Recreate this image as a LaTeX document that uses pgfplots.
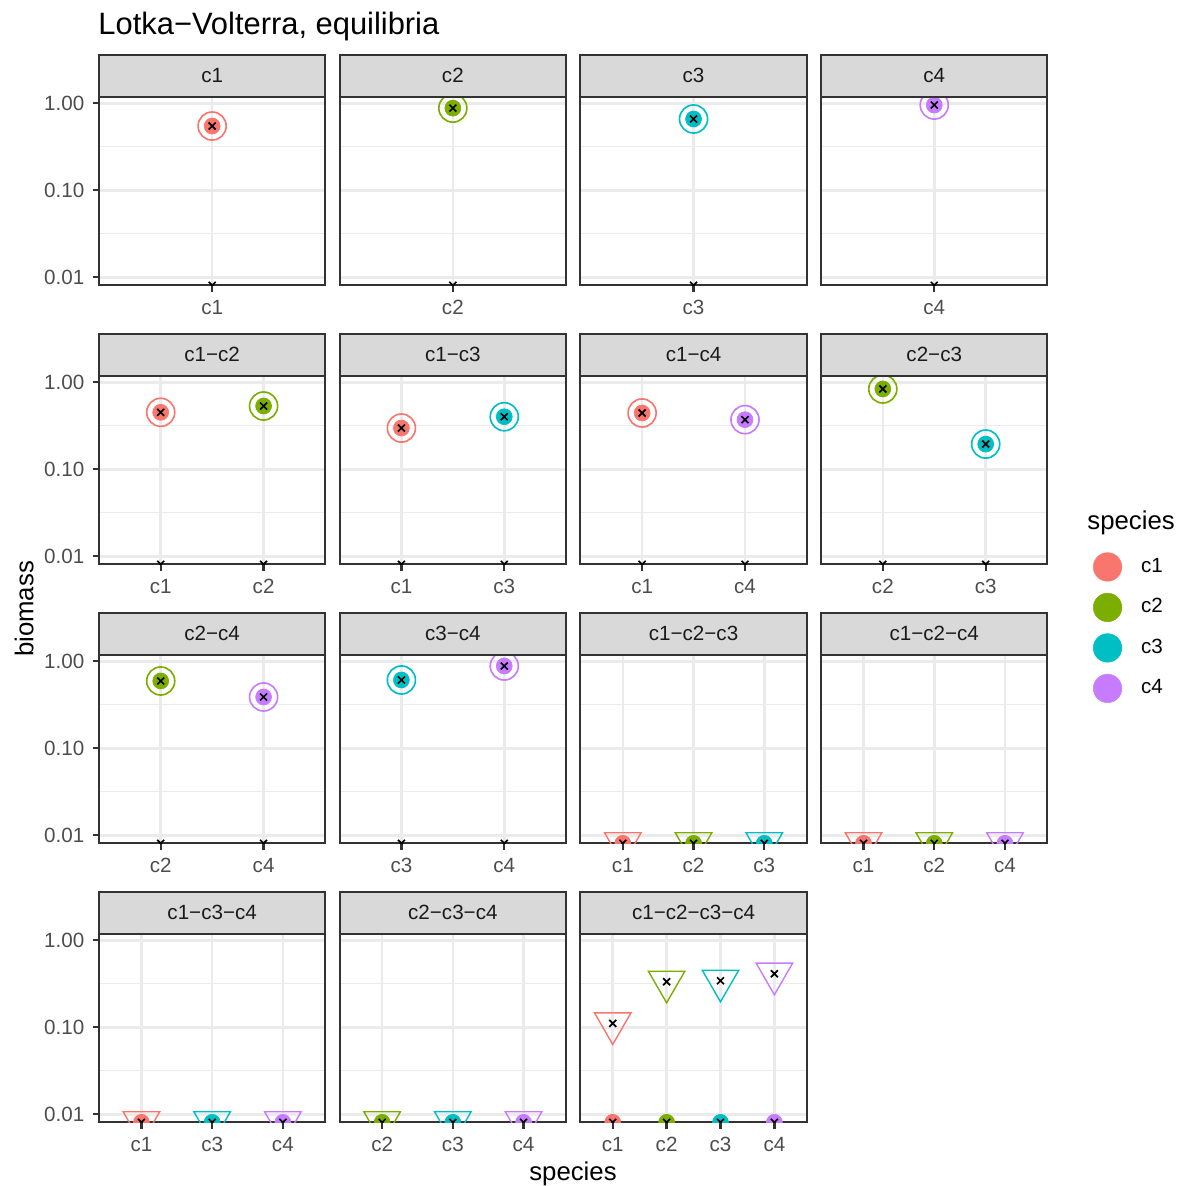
\documentclass[border=0pt]{standalone}
\usepackage{fontspec}
\setmainfont{Liberation Sans}
\usepackage{pgfplots}
\pgfplotsset{compat=1.18}
\definecolor{cA}{HTML}{F8766D}
\definecolor{cB}{HTML}{7CAE00}
\definecolor{cC}{HTML}{00BFC4}
\definecolor{cD}{HTML}{C77CFF}
\definecolor{gridc}{HTML}{EBEBEB}
\definecolor{g20}{HTML}{333333}
\definecolor{g30}{HTML}{4D4D4D}
\definecolor{g10}{HTML}{1A1A1A}
\definecolor{g85}{HTML}{D9D9D9}
\newcommand\fs{\fontsize{8.8}{10.56}\selectfont}
\newcommand\fm{\fontsize{11}{13.2}\selectfont}
\newcommand\strip[3]{\draw[fill=g85,draw=g20,line width=0.9pt] (#1pt,-#2pt) rectangle ++(96.694pt,-17.946pt);
  \node[font=\fs,text=g10,inner sep=0pt] at ({#1pt+48.347pt},{-#2pt-8.973pt}) {#3};}
\pgfplotsset{
  every axis/.append style={
    ymin=0.00809, ymax=1.191, xmin=0.4,
    scale only axis, width=96.694pt, height=80.585pt,
    ytick={0.01,0.1,1}, yticklabels={0.01,0.10,1.00},
    minor ytick={0.0316228,0.316228},
    xmajorgrids, ymajorgrids, yminorgrids,
    major grid style={draw=gridc, line width=1.07pt},
    minor grid style={draw=gridc, line width=0.53pt},
    axis line style={draw=g20, line width=0.9pt},
    tick style={draw=g20, line width=1pt},
    major tick length=2.75pt, minor tick length=0pt,
    tick align=outside, tick pos=left,
    ticklabel style={font=\fs, text=g30},
    clip marker paths=true,
  },
}
\tikzset{
  fpt/.style={only marks, mark=*, color=#1, mark size=3.4pt, mark options={line width=0.3pt}},
  opc/.style={only marks, mark=o, mark size=6pt, mark options={draw=#1, line width=0.7pt, fill=none}},
  tri/.style={only marks, mark=triangle, mark size=9pt, mark options={rotate=180, draw=#1, line width=0.6pt, fill=none}},
  xmk/.style={only marks, mark=x, mark size=2.1pt, mark options={draw=black, line width=0.7pt}},
}
\begin{document}
\begin{tikzpicture}
\useasboundingbox (0pt,0pt) rectangle (505.900pt,-506.754pt);
% Row 1
\begin{semilogyaxis}[xmax=1.6, xtick={1}, xticklabels={c1}, at={(42.301pt,-121.903pt)}, anchor=south west]
\addplot[fpt=cA] coordinates {(1,0.548)};
\addplot[opc=cA] coordinates {(1,0.548)};
\addplot[xmk] coordinates {(1,0.548) (1,0.00809)};
\end{semilogyaxis}
\begin{semilogyaxis}[yticklabels={}, ytick style={draw=none}, xmax=1.6, xtick={1}, xticklabels={c2}, at={(145.147pt,-121.903pt)}, anchor=south west]
\addplot[fpt=cB] coordinates {(1,0.88)};
\addplot[opc=cB] coordinates {(1,0.88)};
\addplot[xmk] coordinates {(1,0.88) (1,0.00809)};
\end{semilogyaxis}
\begin{semilogyaxis}[yticklabels={}, ytick style={draw=none}, xmax=1.6, xtick={1}, xticklabels={c3}, at={(247.994pt,-121.903pt)}, anchor=south west]
\addplot[fpt=cC] coordinates {(1,0.66)};
\addplot[opc=cC] coordinates {(1,0.66)};
\addplot[xmk] coordinates {(1,0.66) (1,0.00809)};
\end{semilogyaxis}
\begin{semilogyaxis}[yticklabels={}, ytick style={draw=none}, xmax=1.6, xtick={1}, xticklabels={c4}, at={(350.840pt,-121.903pt)}, anchor=south west]
\addplot[fpt=cD] coordinates {(1,0.955)};
\addplot[opc=cD] coordinates {(1,0.955)};
\addplot[xmk] coordinates {(1,0.955) (1,0.00809)};
\end{semilogyaxis}
% Row 2
\begin{semilogyaxis}[xmax=2.6, xtick={1,2}, xticklabels={c1,c2}, at={(42.301pt,-241.114pt)}, anchor=south west]
\addplot[fpt=cA] coordinates {(1,0.452)};
\addplot[fpt=cB] coordinates {(2,0.534)};
\addplot[opc=cA] coordinates {(1,0.452)};
\addplot[opc=cB] coordinates {(2,0.534)};
\addplot[xmk] coordinates {(1,0.452) (2,0.534) (1,0.00809) (2,0.00809)};
\end{semilogyaxis}
\begin{semilogyaxis}[yticklabels={}, ytick style={draw=none}, xmax=2.6, xtick={1,2}, xticklabels={c1,c3}, at={(145.147pt,-241.114pt)}, anchor=south west]
\addplot[fpt=cA] coordinates {(1,0.298)};
\addplot[fpt=cC] coordinates {(2,0.402)};
\addplot[opc=cA] coordinates {(1,0.298)};
\addplot[opc=cC] coordinates {(2,0.402)};
\addplot[xmk] coordinates {(1,0.298) (2,0.402) (1,0.00809) (2,0.00809)};
\end{semilogyaxis}
\begin{semilogyaxis}[yticklabels={}, ytick style={draw=none}, xmax=2.6, xtick={1,2}, xticklabels={c1,c4}, at={(247.994pt,-241.114pt)}, anchor=south west]
\addplot[fpt=cA] coordinates {(1,0.444)};
\addplot[fpt=cD] coordinates {(2,0.372)};
\addplot[opc=cA] coordinates {(1,0.444)};
\addplot[opc=cD] coordinates {(2,0.372)};
\addplot[xmk] coordinates {(1,0.444) (2,0.372) (1,0.00809) (2,0.00809)};
\end{semilogyaxis}
\begin{semilogyaxis}[yticklabels={}, ytick style={draw=none}, xmax=2.6, xtick={1,2}, xticklabels={c2,c3},
  legend cell align=left,
  legend style={at={(1.2006,0.0642)}, anchor=north west, draw=none, fill=none,
    inner xsep=0pt, inner ysep=0pt, row sep=5.1pt, column sep=0pt, font=\fs,
    nodes={inner sep=0pt},
    /tikz/every odd column/.append style={column sep=8.2pt}},
  at={(350.840pt,-241.114pt)}, anchor=south west]
\addlegendimage{only marks, mark=*, color=cA, mark size=6.1pt, mark options={line width=0.2pt}}\addlegendentry{c1}
\addlegendimage{only marks, mark=*, color=cB, mark size=6.1pt, mark options={line width=0.2pt}}\addlegendentry{c2}
\addlegendimage{only marks, mark=*, color=cC, mark size=6.1pt, mark options={line width=0.2pt}}\addlegendentry{c3}
\addlegendimage{only marks, mark=*, color=cD, mark size=6.1pt, mark options={line width=0.2pt}}\addlegendentry{c4}
\addplot[fpt=cB] coordinates {(1,0.838)};
\addplot[fpt=cC] coordinates {(2,0.195)};
\addplot[opc=cB] coordinates {(1,0.838)};
\addplot[opc=cC] coordinates {(2,0.195)};
\addplot[xmk] coordinates {(1,0.838) (2,0.195) (1,0.00809) (2,0.00809)};
\end{semilogyaxis}
% Row 3
\begin{semilogyaxis}[xmax=2.6, xtick={1,2}, xticklabels={c2,c4}, at={(42.301pt,-360.325pt)}, anchor=south west]
\addplot[fpt=cB] coordinates {(1,0.594)};
\addplot[fpt=cD] coordinates {(2,0.389)};
\addplot[opc=cB] coordinates {(1,0.594)};
\addplot[opc=cD] coordinates {(2,0.389)};
\addplot[xmk] coordinates {(1,0.594) (2,0.389) (1,0.00809) (2,0.00809)};
\end{semilogyaxis}
\begin{semilogyaxis}[yticklabels={}, ytick style={draw=none}, xmax=2.6, xtick={1,2}, xticklabels={c3,c4}, at={(145.147pt,-360.325pt)}, anchor=south west]
\addplot[fpt=cC] coordinates {(1,0.61)};
\addplot[fpt=cD] coordinates {(2,0.883)};
\addplot[opc=cC] coordinates {(1,0.61)};
\addplot[opc=cD] coordinates {(2,0.883)};
\addplot[xmk] coordinates {(1,0.61) (2,0.883) (1,0.00809) (2,0.00809)};
\end{semilogyaxis}
\begin{semilogyaxis}[yticklabels={}, ytick style={draw=none}, xmax=3.6, xtick={1,2,3}, xticklabels={c1,c2,c3}, at={(247.994pt,-360.325pt)}, anchor=south west]
\addplot[fpt=cA] coordinates {(1,0.00809)};
\addplot[fpt=cB] coordinates {(2,0.00809)};
\addplot[fpt=cC] coordinates {(3,0.00809)};
\addplot[tri=cA] coordinates {(1,0.00809)};
\addplot[tri=cB] coordinates {(2,0.00809)};
\addplot[tri=cC] coordinates {(3,0.00809)};
\addplot[xmk] coordinates {(1,0.00809) (2,0.00809) (3,0.00809)};
\end{semilogyaxis}
\begin{semilogyaxis}[yticklabels={}, ytick style={draw=none}, xmax=3.6, xtick={1,2,3}, xticklabels={c1,c2,c4}, at={(350.840pt,-360.325pt)}, anchor=south west]
\addplot[fpt=cA] coordinates {(1,0.00809)};
\addplot[fpt=cB] coordinates {(2,0.00809)};
\addplot[fpt=cD] coordinates {(3,0.00809)};
\addplot[tri=cA] coordinates {(1,0.00809)};
\addplot[tri=cB] coordinates {(2,0.00809)};
\addplot[tri=cD] coordinates {(3,0.00809)};
\addplot[xmk] coordinates {(1,0.00809) (2,0.00809) (3,0.00809)};
\end{semilogyaxis}
% Row 4
\begin{semilogyaxis}[xmax=3.6, xtick={1,2,3}, xticklabels={c1,c3,c4}, at={(42.301pt,-479.536pt)}, anchor=south west]
\addplot[fpt=cA] coordinates {(1,0.00809)};
\addplot[fpt=cC] coordinates {(2,0.00809)};
\addplot[fpt=cD] coordinates {(3,0.00809)};
\addplot[tri=cA] coordinates {(1,0.00809)};
\addplot[tri=cC] coordinates {(2,0.00809)};
\addplot[tri=cD] coordinates {(3,0.00809)};
\addplot[xmk] coordinates {(1,0.00809) (2,0.00809) (3,0.00809)};
\end{semilogyaxis}
\begin{semilogyaxis}[yticklabels={}, ytick style={draw=none}, xmax=3.6, xtick={1,2,3}, xticklabels={c2,c3,c4}, at={(145.147pt,-479.536pt)}, anchor=south west]
\addplot[fpt=cB] coordinates {(1,0.00809)};
\addplot[fpt=cC] coordinates {(2,0.00809)};
\addplot[fpt=cD] coordinates {(3,0.00809)};
\addplot[tri=cB] coordinates {(1,0.00809)};
\addplot[tri=cC] coordinates {(2,0.00809)};
\addplot[tri=cD] coordinates {(3,0.00809)};
\addplot[xmk] coordinates {(1,0.00809) (2,0.00809) (3,0.00809)};
\end{semilogyaxis}
\begin{semilogyaxis}[yticklabels={}, ytick style={draw=none}, xmax=4.6, xtick={1,2,3,4}, xticklabels={c1,c2,c3,c4}, at={(247.994pt,-479.536pt)}, anchor=south west]
\addplot[fpt=cA] coordinates {(1,0.00809)};
\addplot[fpt=cB] coordinates {(2,0.00809)};
\addplot[fpt=cC] coordinates {(3,0.00809)};
\addplot[fpt=cD] coordinates {(4,0.00809)};
\addplot[tri=cA] coordinates {(1,0.111)};
\addplot[tri=cB] coordinates {(2,0.334)};
\addplot[tri=cC] coordinates {(3,0.343)};
\addplot[tri=cD] coordinates {(4,0.413)};
\addplot[xmk] coordinates {(1,0.111) (2,0.334) (3,0.343) (4,0.413) (1,0.00809) (2,0.00809) (3,0.00809) (4,0.00809)};
\end{semilogyaxis}
% Strips
\strip{42.301}{23.372}{c1}
\strip{145.147}{23.372}{c2}
\strip{247.994}{23.372}{c3}
\strip{350.840}{23.372}{c4}
\strip{42.301}{142.583}{c1−c2}
\strip{145.147}{142.583}{c1−c3}
\strip{247.994}{142.583}{c1−c4}
\strip{350.840}{142.583}{c2−c3}
\strip{42.301}{261.794}{c2−c4}
\strip{145.147}{261.794}{c3−c4}
\strip{247.994}{261.794}{c1−c2−c3}
\strip{350.840}{261.794}{c1−c2−c4}
\strip{42.301}{381.006}{c1−c3−c4}
\strip{145.147}{381.006}{c2−c3−c4}
\strip{247.994}{381.006}{c1−c2−c3−c4}
% Titles and labels
\node[anchor=base west, inner sep=0pt, font=\fontsize{13.2}{15.84}\selectfont] at (41.873pt,-14.955pt) {Lotka−Volterra, equilibria};
\node[anchor=base, rotate=90, inner sep=0pt, font=\fm] at (14.228pt,-260.214pt) {biomass};
\node[anchor=base, inner sep=0pt, font=\fm] at (244.831pt,-504.190pt) {species};
\node[anchor=base west, inner sep=0pt, font=\fm] at (464.453pt,-226.031pt) {species};
\end{tikzpicture}
\end{document}
